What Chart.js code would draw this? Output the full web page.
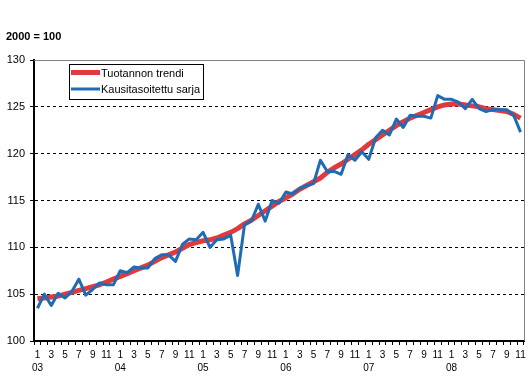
<!DOCTYPE html>
<html><head><meta charset="utf-8">
<script src="https://cdn.jsdelivr.net/npm/chart.js@4"></script>
<style>html,body{margin:0;padding:0;background:#fff}</style>
</head><body>
<canvas id="c" width="530" height="384"></canvas>
<script>
const years = ['03','04','05','06','07','08'];
const monthsShown = [1,3,5,7,9,11];
const seriesNames = ['Tuotannon trendi','Kausitasoitettu sarja'];
const unitLabel = '2000 = 100';
const yMin = 100, yMax = 130, yStep = 5;

const trend = [
  104.5,104.6,104.7,104.8,105.0,105.2,105.4,105.6,105.8,106.0,106.3,106.6,
  106.9,107.2,107.5,107.8,108.1,108.5,108.9,109.2,109.5,109.9,110.3,110.5,
  110.7,110.8,111.0,111.3,111.6,112.0,112.5,112.9,113.4,113.9,114.4,114.9,
  115.3,115.7,116.2,116.6,117.0,117.4,118.0,118.5,118.9,119.4,119.9,120.4,
  121.0,121.5,122.0,122.5,123.0,123.4,123.8,124.1,124.4,124.7,125.0,125.2,
  125.3,125.3,125.2,125.1,125.0,124.8,124.7,124.6,124.5,124.2,123.8
];
const seasonal = [
  103.5,105.0,103.8,105.1,104.6,105.3,106.6,104.9,105.5,106.2,106.0,106.0,
  107.5,107.3,107.9,107.8,107.8,108.8,109.2,109.2,108.5,110.3,110.9,110.8,
  111.6,110.0,110.8,110.9,111.3,107.0,112.4,112.8,114.6,112.8,115.0,114.7,
  115.9,115.7,116.3,116.6,116.8,119.3,118.1,118.1,117.8,119.9,119.3,120.2,
  119.4,121.7,122.5,122.0,123.7,122.8,124.1,124.0,124.0,123.8,126.2,125.8,
  125.8,125.5,124.8,125.8,124.8,124.5,124.7,124.7,124.7,124.1,122.3
];

const labels = [];
for (let i = 0; i < seasonal.length; i++) {
  const m = i % 12 + 1;
  const y = years[Math.floor(i / 12)];
  if (m === 1) labels.push([String(m), y]);
  else if (monthsShown.includes(m)) labels.push(String(m));
  else labels.push('');
}

const FONT = "'Liberation Sans', Arial, sans-serif";

const deco = {
  id: 'deco',
  beforeDatasetsDraw(chart) {
    const {ctx, chartArea: a} = chart;
    ctx.save();
    ctx.strokeStyle = '#808080';
    ctx.lineWidth = 1;
    ctx.beginPath();
    ctx.moveTo(a.left, a.top + 0.5);
    ctx.lineTo(a.right + 0.5, a.top + 0.5);
    ctx.lineTo(a.right + 0.5, a.bottom);
    ctx.stroke();
    ctx.restore();
  },
  afterDraw(chart) {
    const {ctx} = chart;
    ctx.save();
    // unit label
    ctx.fillStyle = '#000';
    ctx.font = 'bold 11px ' + FONT;
    ctx.textBaseline = 'alphabetic';
    ctx.fillText(unitLabel, 6, 40);
    // legend
    const bx = 69.5, by = 64.5, bw = 134, bh = 35;
    ctx.fillStyle = '#fff';
    ctx.fillRect(bx, by, bw, bh);
    ctx.strokeStyle = '#000';
    ctx.lineWidth = 1;
    ctx.strokeRect(bx, by, bw, bh);
    const rows = [72.5, 89];
    chart.data.datasets.forEach((ds, k) => {
      const y = rows[k];
      ctx.strokeStyle = ds.borderColor;
      ctx.lineWidth = ds.borderWidth;
      ctx.beginPath();
      ctx.moveTo(71, y);
      ctx.lineTo(100, y);
      ctx.stroke();
      ctx.fillStyle = '#000';
      ctx.font = '11px ' + FONT;
      ctx.textBaseline = 'middle';
      ctx.fillText(ds.label, 101, y + 1);
    });
    ctx.restore();
  }
};

new Chart(document.getElementById('c'), {
  type: 'line',
  data: {
    labels: labels,
    datasets: [
      { label: seriesNames[0], data: trend, borderColor: '#e0393e', borderWidth: 5,
        pointRadius: 0, tension: 0, order: 2, borderJoinStyle: 'round' },
      { label: seriesNames[1], data: seasonal, borderColor: '#1f6bb4', borderWidth: 3,
        pointRadius: 0, tension: 0, order: 1, borderJoinStyle: 'round' }
    ]
  },
  options: {
    responsive: false,
    animation: false,
    devicePixelRatio: 1,
    layout: { padding: { top: 60, right: 6, left: 0, bottom: 0 } },
    plugins: { legend: { display: false }, title: { display: false }, tooltip: { enabled: false } },
    scales: {
      x: {
        type: 'category',
        offset: true,
        afterFit(s) { s.height = 43; },
        grid: { display: true, drawOnChartArea: false, drawTicks: true, tickLength: 4,
                tickColor: '#000', offset: true },
        border: { display: true, color: '#000', width: 2 },
        ticks: { autoSkip: false, maxRotation: 0, minRotation: 0, padding: 3, color: '#000',
                 font: { family: FONT, size: 10, lineHeight: 1.35 } }
      },
      y: {
        min: yMin, max: yMax,
        afterFit(s) { s.width = 34; },
        grid: {
          color: (c) => (c.tick && (c.tick.value === yMax || c.tick.value === yMin)) ? 'rgba(0,0,0,0)' : '#000',
          lineWidth: 1, tickLength: 4, tickColor: '#000', drawTicks: true
        },
        border: { display: true, color: '#000', width: 2, dash: [3, 3] },
        ticks: { stepSize: yStep, padding: 5, color: '#000', font: { family: FONT, size: 11 } }
      }
    }
  },
  plugins: [deco]
});
</script>
</body></html>
